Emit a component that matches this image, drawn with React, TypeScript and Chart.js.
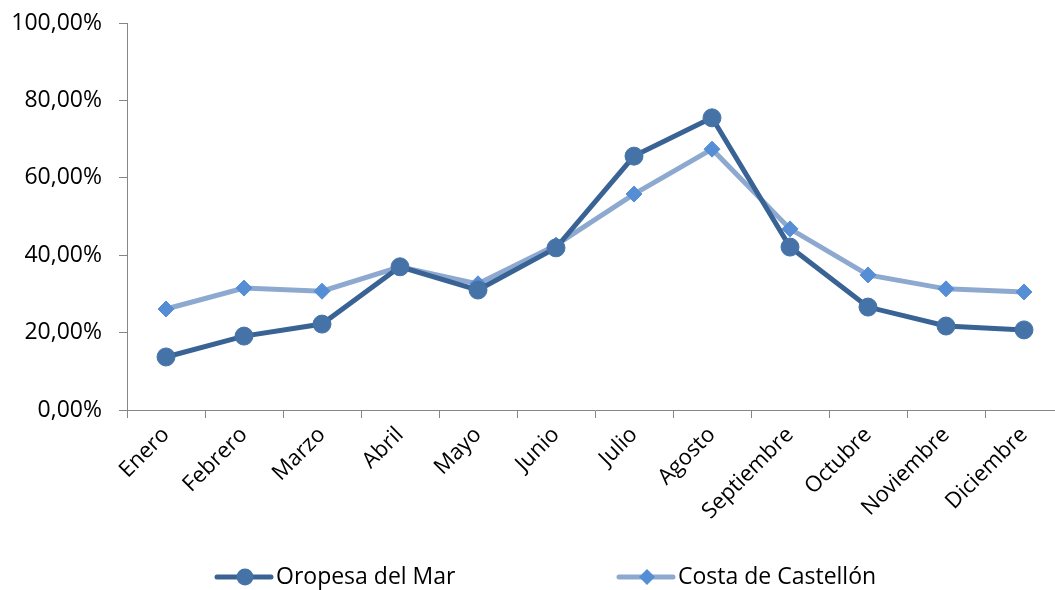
import React, { useEffect, useRef } from "react";
import { Chart, registerables } from "chart.js";

Chart.register(...registerables);

const months = ["Enero", "Febrero", "Marzo", "Abril", "Mayo", "Junio", "Julio", "Agosto", "Septiembre", "Octubre", "Noviembre", "Diciembre"];
const oropesa = [13.7, 19.1, 22.2, 37.0, 31.0, 41.9, 65.6, 75.5, 42.1, 26.6, 21.7, 20.7];
const costa = [26.1, 31.5, 30.7, 37.0, 32.6, 42.6, 55.8, 67.4, 46.8, 34.9, 31.3, 30.5];
const seriesNames = ["Oropesa del Mar", "Costa de Castellón"];

const FONT = "'Open Sans', sans-serif";
const AXIS = "#868686";

const legendPlugin = {
  id: "customLegend",
  afterDraw(chart: any) {
    const ctx = chart.ctx;
    const items = [
      { x: 217, label: seriesNames[0], line: "#3A6395", marker: "#4573A7", style: "circle" },
      { x: 619, label: seriesNames[1], line: "#8EA9CF", marker: "#558ED5", style: "diamond" },
    ];
    const y = 577;
    ctx.save();
    items.forEach((it) => {
      ctx.strokeStyle = it.line;
      ctx.lineWidth = 5;
      ctx.lineCap = "round";
      ctx.beginPath();
      ctx.moveTo(it.x, y);
      ctx.lineTo(it.x + 54, y);
      ctx.stroke();
      const cx = it.x + 28;
      ctx.fillStyle = it.marker;
      ctx.beginPath();
      if (it.style === "circle") {
        ctx.arc(cx, y, 8.5, 0, Math.PI * 2);
      } else {
        ctx.moveTo(cx, y - 8);
        ctx.lineTo(cx + 8, y);
        ctx.lineTo(cx, y + 8);
        ctx.lineTo(cx - 8, y);
        ctx.closePath();
      }
      ctx.fill();
      ctx.fillStyle = "#000";
      ctx.font = `23px ${FONT}`;
      ctx.textAlign = "left";
      ctx.textBaseline = "middle";
      ctx.fillText(it.label, it.x + 59, y);
    });
    ctx.restore();
  },
};

export default function App() {
  const ref = useRef<HTMLCanvasElement>(null);
  useEffect(() => {
    if (!ref.current) return;
    const chart = new Chart(ref.current, {
      type: "line",
      data: {
        labels: months,
        datasets: [
          {
            label: seriesNames[0],
            data: oropesa,
            borderColor: "#3A6395",
            backgroundColor: "#4573A7",
            pointBackgroundColor: "#4573A7",
            pointBorderColor: "#4573A7",
            borderWidth: 5,
            pointStyle: "circle",
            pointRadius: 9,
            pointBorderWidth: 1,
            tension: 0,
            clip: false,
          },
          {
            label: seriesNames[1],
            data: costa,
            borderColor: "#8EA9CF",
            backgroundColor: "#558ED5",
            pointBackgroundColor: "#558ED5",
            pointBorderColor: "#558ED5",
            borderWidth: 5,
            pointStyle: "rectRot",
            pointRadius: 8,
            pointBorderWidth: 1,
            tension: 0,
            clip: false,
          },
        ],
      },
      options: {
        animation: false,
        responsive: false,
        maintainAspectRatio: false,
        layout: { autoPadding: false, padding: { top: 23, left: 0, right: 0, bottom: 0 } },
        plugins: { legend: { display: false }, tooltip: { enabled: false } },
        scales: {
          x: {
            offset: true,
            grid: { offset: true, drawOnChartArea: false, drawTicks: true, tickLength: 8, color: AXIS, lineWidth: 1 },
            border: { color: AXIS, width: 1 },
            ticks: {
              minRotation: 45,
              maxRotation: 45,
              autoSkip: false,
              padding: 4,
              color: "#000",
              font: { family: FONT, size: 22 },
            },
            afterFit(scale: any) {
              scale.height = 180;
              scale.paddingLeft = 0;
              scale.paddingRight = 0;
            },
          },
          y: {
            min: 0,
            max: 100,
            grid: { drawOnChartArea: false, drawTicks: true, tickLength: 8, color: AXIS, lineWidth: 1 },
            border: { color: AXIS, width: 1 },
            ticks: {
              stepSize: 20,
              padding: 17,
              color: "#000",
              font: { family: FONT, size: 23 },
              callback: (v: any) => Number(v).toFixed(2).replace(".", ",") + "%",
            },
            afterFit(scale: any) {
              scale.width = 127;
              scale.paddingTop = 0;
              scale.paddingBottom = 0;
            },
          },
        },
      },
      plugins: [legendPlugin],
    });
    return () => chart.destroy();
  }, []);
  return (
    <div style={{ position: "absolute", left: 0, top: 0, width: 1055, height: 590, background: "#fff", overflow: "hidden" }}>
      <canvas ref={ref} width={1063} height={590} style={{ display: "block" }} />
    </div>
  );
}
